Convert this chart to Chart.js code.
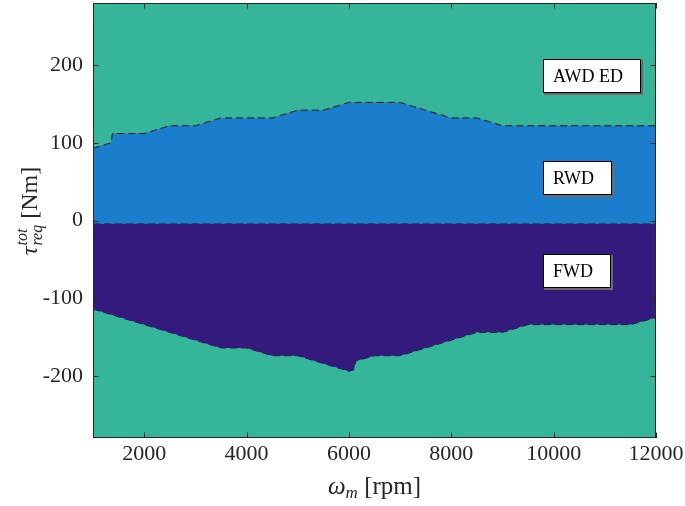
<!DOCTYPE html>
<html><head><meta charset="utf-8">
<script src="https://cdn.jsdelivr.net/npm/chart.js@4.4.0/dist/chart.umd.min.js"></script>
<style>html,body{margin:0;padding:0;background:#fff;overflow:hidden}canvas{display:block}</style>
</head><body>
<canvas id="c" width="685" height="506"></canvas>
<script>
// ---- data ----
const rpmUpper    = [1000,1350,1380,2000,2500,3000,3500,4500,5000,5500,6000,7000,8000,8500,9000,12000];
const torqueUpper = [93,100,112,112,122,122,132,132,142,142,152,152,132,132,122,122];
const rpmSplit    = [1000,12000];
const torqueSplit = [-4,-4];
const rpmLower    = [1000,3500,4000,4500,5000,6000,6100,6130,6500,7000,8500,9000,9500,11500,12000];
const torqueLower = [-114,-164,-164,-174,-174,-194,-192,-181,-174,-174,-144,-144,-134,-134,-125];
const regionNames = ['AWD ED','RWD','FWD'];
const xTicks = [2000,4000,6000,8000,10000,12000];
const yTicks = [-200,-100,0,100,200];

// ---- styles ----
const TEAL = 'rgb(53,182,155)';
const BLUE = 'rgb(26,126,205)';
const PURPLE = 'rgb(51,26,124)';
const AXC = '#262626';
const SERIF = '"Liberation Serif", "DejaVu Serif", serif';
const labelAnchors = [{x:9800,y:186},{x:9800,y:55},{x:9800,y:-65}];

const toPts = (xs, ys) => xs.map((x, i) => ({x, y: ys[i]}));
const dash = [7, 4];

const decor = {
  id: 'decor',
  beforeDraw(chart) {
    const {ctx, chartArea: a} = chart;
    ctx.save();
    ctx.fillStyle = TEAL;
    ctx.fillRect(a.left, a.top, a.right - a.left, a.bottom - a.top);
    ctx.restore();
  },
  afterDraw(chart) {
    const {ctx, chartArea: a, scales: {x, y}} = chart;
    ctx.save();
    // frame
    ctx.strokeStyle = AXC; ctx.lineWidth = 1;
    ctx.strokeRect(Math.round(a.left) + 0.5, Math.round(a.top) + 0.5,
                   Math.round(a.right - a.left) - 1, Math.round(a.bottom - a.top) - 1);
    // inward ticks on all four sides
    const tl = 5.5;
    ctx.beginPath();
    xTicks.forEach(v => {
      const px = Math.round(x.getPixelForValue(v)) + 0.5;
      ctx.moveTo(px, a.bottom); ctx.lineTo(px, a.bottom - tl);
      ctx.moveTo(px, a.top); ctx.lineTo(px, a.top + tl);
    });
    yTicks.forEach(v => {
      const py = Math.round(y.getPixelForValue(v)) + 0.5;
      ctx.moveTo(a.left, py); ctx.lineTo(a.left + tl, py);
      ctx.moveTo(a.right, py); ctx.lineTo(a.right - tl, py);
    });
    ctx.stroke();

    // region text boxes
    ctx.font = '18px ' + SERIF;
    ctx.textBaseline = 'middle';
    regionNames.forEach((name, i) => {
      const bx = Math.round(x.getPixelForValue(labelAnchors[i].x));
      const cy = y.getPixelForValue(labelAnchors[i].y);
      const w = Math.round(ctx.measureText(name).width + 28);
      const h = 34;
      const by = Math.round(cy - h / 2);
      ctx.fillStyle = '#6a6a6a';
      ctx.fillRect(bx + 1, by + 1, w + 1, h + 1);
      ctx.fillStyle = '#fff';
      ctx.fillRect(bx, by, w, h);
      ctx.strokeStyle = '#000';
      ctx.lineWidth = 1;
      ctx.strokeRect(bx + 0.5, by + 0.5, w - 1, h - 1);
      ctx.fillStyle = '#000';
      ctx.textAlign = 'left';
      ctx.fillText(name, bx + 10, cy + 1);
    });

    // x axis title: omega_m [rpm]
    ctx.fillStyle = AXC;
    ctx.textBaseline = 'alphabetic';
    ctx.textAlign = 'left';
    let big = 25, small = 17;
    ctx.font = 'italic ' + big + 'px ' + SERIF; const w1 = ctx.measureText('ω').width;
    ctx.font = 'italic ' + small + 'px ' + SERIF; const w2 = ctx.measureText('m').width;
    ctx.font = big + 'px ' + SERIF; const w3 = ctx.measureText(' [rpm]').width;
    let sx = (a.left + a.right) / 2 - (w1 + w2 + w3) / 2;
    const by = 494;
    ctx.font = 'italic ' + big + 'px ' + SERIF; ctx.fillText('ω', sx, by); sx += w1;
    ctx.font = 'italic ' + small + 'px ' + SERIF; ctx.fillText('m', sx, by + 4); sx += w2;
    ctx.font = big + 'px ' + SERIF; ctx.fillText(' [rpm]', sx, by);

    // y axis title: tau^tot_req [Nm]
    big = 24; small = 16;
    ctx.save();
    ctx.translate(37, (a.top + a.bottom) / 2 - 9);
    ctx.rotate(-Math.PI / 2);
    ctx.font = 'italic ' + big + 'px ' + SERIF; const t1 = ctx.measureText('τ').width;
    ctx.font = 'italic ' + small + 'px ' + SERIF;
    const t2 = Math.max(ctx.measureText('tot').width, ctx.measureText('req').width);
    ctx.font = big + 'px ' + SERIF; const t3 = ctx.measureText(' [Nm]').width;
    let tx = -(t1 + t2 + t3) / 2;
    ctx.font = 'italic ' + big + 'px ' + SERIF; ctx.fillText('τ', tx, 0); tx += t1 + 1;
    ctx.font = 'italic ' + small + 'px ' + SERIF;
    ctx.fillText('tot', tx, -10);
    ctx.fillText('req', tx, 5);
    tx += t2;
    ctx.font = big + 'px ' + SERIF; ctx.fillText(' [Nm]', tx, 0);
    ctx.restore();

    ctx.restore();
  }
};

new Chart(document.getElementById('c'), {
  type: 'line',
  data: {
    datasets: [
      {data: toPts(rpmUpper, torqueUpper), borderColor: '#111', borderWidth: 1, borderDash: dash,
       pointRadius: 0, tension: 0, fill: '+1', backgroundColor: BLUE},
      {data: toPts(rpmSplit, torqueSplit), borderColor: '#111', borderWidth: 1, borderDash: dash,
       pointRadius: 0, tension: 0, fill: '+1', backgroundColor: PURPLE},
      {data: toPts(rpmLower, torqueLower), borderColor: '#111', borderWidth: 1, borderDash: dash,
       pointRadius: 0, tension: 0, fill: false}
    ]
  },
  options: {
    responsive: false,
    animation: false,
    devicePixelRatio: 1,
    layout: {padding: {top: 3, right: 29, left: 0, bottom: 0}},
    plugins: {legend: {display: false}, tooltip: {enabled: false}},
    scales: {
      x: {
        type: 'linear', min: 1000, max: 12000,
        afterBuildTicks: s => { s.ticks = xTicks.map(v => ({value: v})); },
        afterFit: s => { s.height = 68; s.paddingLeft = 0; s.paddingRight = 0; },
        grid: {display: false, drawTicks: false},
        border: {display: false},
        ticks: {color: AXC, font: {family: SERIF, size: 22}, padding: 3, maxRotation: 0, autoSkip: false,
                callback: v => String(v)}
      },
      y: {
        type: 'linear', min: -280, max: 280,
        afterBuildTicks: s => { s.ticks = yTicks.map(v => ({value: v})); },
        afterFit: s => { s.width = 93; s.paddingTop = 0; s.paddingBottom = 0; },
        grid: {display: false, drawTicks: false},
        border: {display: false},
        ticks: {color: AXC, font: {family: SERIF, size: 22}, padding: 10, autoSkip: false,
                callback: v => String(v)}
      }
    }
  },
  plugins: [decor]
});
</script>
</body></html>
